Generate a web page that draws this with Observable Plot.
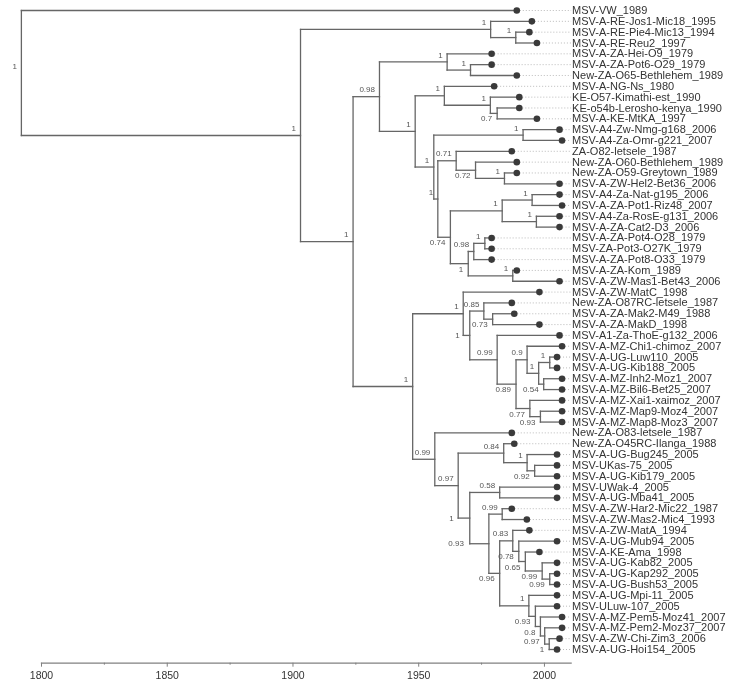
<!DOCTYPE html>
<html><head><meta charset="utf-8">
<script src="https://cdn.jsdelivr.net/npm/d3@7"></script>
<script src="https://cdn.jsdelivr.net/npm/@observablehq/plot@0.6"></script>
<style>body{margin:0;background:#fff}#chart svg{display:block;will-change:transform}</style>
</head><body><div id="chart"></div>
<script>
// ---------- data ----------
const tipNames = [
"MSV-VW_1989","MSV-A-RE-Jos1-Mic18_1995","MSV-A-RE-Pie4-Mic13_1994","MSV-A-RE-Reu2_1997",
"MSV-A-ZA-Hei-O9_1979","MSV-A-ZA-Pot6-O29_1979","New-ZA-O65-Bethlehem_1989","MSV-A-NG-Ns_1980",
"KE-O57-Kimathi-est_1990","KE-o54b-Lerosho-kenya_1990","MSV-A-KE-MtKA_1997","MSV-A4-Zw-Nmg-g168_2006",
"MSV-A4-Za-Omr-g221_2007","ZA-O82-letsele_1987","New-ZA-O60-Bethlehem_1989","New-ZA-O59-Greytown_1989",
"MSV-A-ZW-Hel2-Bet36_2006","MSV-A4-Za-Nat-g195_2006","MSV-A-ZA-Pot1-Riz48_2007","MSV-A4-Za-RosE-g131_2006",
"MSV-A-ZA-Cat2-D3_2006","MSV-A-ZA-Pot4-O28_1979","MSV-ZA-Pot3-O27K_1979","MSV-A-ZA-Pot8-O33_1979",
"MSV-A-ZA-Kom_1989","MSV-A-ZW-Mas1-Bet43_2006","MSV-A-ZW-MatC_1998","New-ZA-O87RC-letsele_1987",
"MSV-A-ZA-Mak2-M49_1988","MSV-A-ZA-MakD_1998","MSV-A1-Za-ThoE-g132_2006","MSV-A-MZ-Chi1-chimoz_2007",
"MSV-A-UG-Luw110_2005","MSV-A-UG-Kib188_2005","MSV-A-MZ-Inh2-Moz1_2007","MSV-A-MZ-Bil6-Bet25_2007",
"MSV-A-MZ-Xai1-xaimoz_2007","MSV-A-MZ-Map9-Moz4_2007","MSV-A-MZ-Map8-Moz3_2007","New-ZA-O83-letsele_1987",
"New-ZA-O45RC-Ilanga_1988","MSV-A-UG-Bug245_2005","MSV-UKas-75_2005","MSV-A-UG-Kib179_2005",
"MSV-UWak-4_2005","MSV-A-UG-Mba41_2005","MSV-A-ZW-Har2-Mic22_1987","MSV-A-ZW-Mas2-Mic4_1993",
"MSV-A-ZW-MatA_1994","MSV-A-UG-Mub94_2005","MSV-A-KE-Ama_1998","MSV-A-UG-Kab82_2005",
"MSV-A-UG-Kap292_2005","MSV-A-UG-Bush53_2005","MSV-A-UG-Mpi-11_2005","MSV-ULuw-107_2005",
"MSV-A-MZ-Pem5-Moz41_2007","MSV-A-MZ-Pem2-Moz37_2007","MSV-A-ZW-Chi-Zim3_2006","MSV-A-UG-Hoi154_2005"
];
const tipYears = [
1989,1995,1994,1997, 1979,1979,1989,1980, 1990,1990,1997,2006,
2007,1987,1989,1989, 2006,2006,2007,2006, 2006,1979,1979,1979,
1989,2006,1998,1987, 1988,1998,2006,2007, 2005,2005,2007,2007,
2007,2007,2007,1987, 1988,2005,2005,2005, 2005,2005,1987,1993,
1994,2005,1998,2005, 2005,2005,2005,2005, 2007,2007,2006,2005
];

// topology: tips by index (t0..t59), internal nodes by id
const treeNewick =
"(t0,((t1,(t2,t3)E)D,(((t4,(t5,t6)I)G,((t7,(t8,(t9,t10)Y)X)J,((t11,t12)A4,((t13,(t14,(t15,t16)P)O)M," +
"(((t17,t18)S,(t19,t20)T)Q,(((t21,t22)W,t23)U,(t24,t25)V)R)N)L)K)H)C," +
"((t26,((t27,(t28,t29)AD)AC,(t30,((t31,((t32,t33)AG3,(t34,t35)AG4)AG2)AG,(t36,(t37,t38)AH2)AH)AF)AE)AB)Z," +
"(t39,((t40,(t41,(t42,t43)AL)AK)AJ,((t44,t45)AO,((t46,t47)AR,((t48,(t49,(t50,(t51,(t52,t53)AX)AW)AV)AU)AT," +
"(t54,(t55,(t56,(t57,(t58,t59)BB)BA)AZ)AY)AS)AQ)AN)AM)AI)AA)F)B)A)root;";

const nodeIds = ["root","A","D","E","B","C","G","I","H","J","X","Y","K","A4","L","M","O","P","N","Q","S","T",
"R","U","W","V","F","Z","AB","AC","AD","AE","AF","AG","AG2","AG3","AG4","AH","AH2","AA","AI","AJ","AK","AL",
"AM","AO","AN","AR","AQ","AT","AU","AV","AW","AX","AS","AY","AZ","BA","BB"];
const nodeYears = [1792.0,1903.0,1978.6,1988.6,1923.9,1934.4,1961.3,1970.6,1948.6,1960.2,1978.5,1981.2,1956.0,1991.5,
1957.6,1964.9,1972.6,1984.1,1962.6,1983.2,1995.1,1996.8,1969.7,1971.9,1976.3,1987.4,1947.6,1967.7,1970.3,1975.9,
1979.4,1981.2,1988.7,1993.1,1997.7,2002.1,1999.7,1994.2,1998.4,1956.4,1965.7,1983.8,1993.1,1996.1,1970.3,1982.2,
1977.9,1983.2,1982.2,1987.4,1989.8,1992.4,1999.1,2002.1,1993.8,1996.4,1998.4,2000.1,2001.9];
const nodeSupport = [1,1,1,1,1,0.98,1,1,1,1,1,0.7,1,1,1,0.71,0.72,1,0.74,1,1,1,
1,0.98,1,1,1,1,1,0.85,0.73,0.99,0.89,0.9,1,1,0.54,0.77,0.93,0.99,0.97,0.84,1,0.92,
1,0.58,0.93,0.99,0.96,0.83,0.78,0.65,0.99,0.99,1,0.93,0.8,0.97,1];

const majorTicks = [1800,1850,1900,1950,2000];
const minorTicks = [1825,1875,1925,1975];
const axisStart = 1800, axisEnd = 2010.6;

// label placement groups (styling only)
const labelsBelow = ["O","N","R","Y","AD","AF","AL","AG4","AH","AH2","AQ","AU","AV","AW","AX","AY","AZ","BA","BB"];
const labelsLeft = {AB: -10, AM: -16, AN: -25};

// ---------- layout ----------
function parseNewick(s) {
  let i = 0;
  function node() {
    const n = {children: []};
    if (s[i] === "(") {
      i++;
      n.children.push(node());
      while (s[i] === ",") { i++; n.children.push(node()); }
      i++;
    }
    let name = "";
    while (i < s.length && !",();".includes(s[i])) name += s[i++];
    n.name = name;
    return n;
  }
  return node();
}
const root = parseNewick(treeNewick);
const tips = [], nodes = [], segs = [];
(function layout(n) {
  if (!n.children.length) {
    const k = +n.name.slice(1);
    n.y = k; n.year = tipYears[k];
    tips.push({name: tipNames[k], year: tipYears[k], y: k});
    return;
  }
  n.children.forEach(layout);
  const j = nodeIds.indexOf(n.name);
  n.year = nodeYears[j];
  n.y = d3.mean(n.children, c => c.y);
  nodes.push({id: n.name, year: n.year, y: n.y, support: String(nodeSupport[j])});
  segs.push({x1: n.year, x2: n.year, y1: d3.min(n.children, c => c.y), y2: d3.max(n.children, c => c.y)});
  n.children.forEach(c => segs.push({x1: n.year, x2: c.year, y1: c.y, y2: c.y}));
})(root);

const above = nodes.filter(d => !labelsBelow.includes(d.id) && !(d.id in labelsLeft));
const below = nodes.filter(d => labelsBelow.includes(d.id));
const leftMarks = Object.entries(labelsLeft).map(([id, dx]) =>
  Plot.text(nodes.filter(d => d.id === id), {x: "year", y: "y", text: "support", textAnchor: "end",
    dx, dy: 0, fontSize: 8, fill: "#555"}));

const font = "'Liberation Sans', Arial, Helvetica, sans-serif";
const chart = Plot.plot({
  width: 738, height: 687,
  marginLeft: 41, marginRight: 167.4, marginTop: 10, marginBottom: 24.3,
  x: {domain: [axisStart, axisEnd]},
  y: {domain: [0, tipNames.length - 1], range: [10, 649], axis: null},
  style: {fontFamily: font, background: "#fff", overflow: "visible"},
  marks: [
    Plot.frame({anchor: "bottom", stroke: "#808080", strokeWidth: 1.3}),
    Plot.axisX(minorTicks, {tickSize: 2, text: null, stroke: "#808080"}),
    Plot.axisX(majorTicks, {tickSize: 4, tickPadding: 4, stroke: "#808080", fill: "#333", fontSize: 10.5,
      tickFormat: d3.format("d")}),
    Plot.link(tips, {x1: "year", x2: () => axisEnd, y1: "y", y2: "y", stroke: "#aaa",
      strokeWidth: 0.8, strokeDasharray: "1,2"}),
    Plot.link(segs, {x1: "x1", x2: "x2", y1: "y1", y2: "y2", stroke: "#666", strokeWidth: 1.3,
      strokeLinecap: "square"}),
    Plot.dot(tips, {x: "year", y: "y", r: 3.3, fill: "#3a3a3a", stroke: "none"}),
    Plot.text(tips, {x: () => axisEnd, y: "y", text: "name", textAnchor: "start", dx: 1,
      fontSize: 11, fill: "#333", letterSpacing: "0.25px"}),
    Plot.text(above, {x: "year", y: "y", text: "support", textAnchor: "end", dx: -4.5, dy: -7,
      fontSize: 8, fill: "#555"}),
    Plot.text(below, {x: "year", y: "y", text: "support", textAnchor: "end", dx: -5, dy: 5.5,
      fontSize: 8, fill: "#555"}),
    ...leftMarks
  ]
});
document.getElementById("chart").appendChild(chart);
</script>
</body></html>
